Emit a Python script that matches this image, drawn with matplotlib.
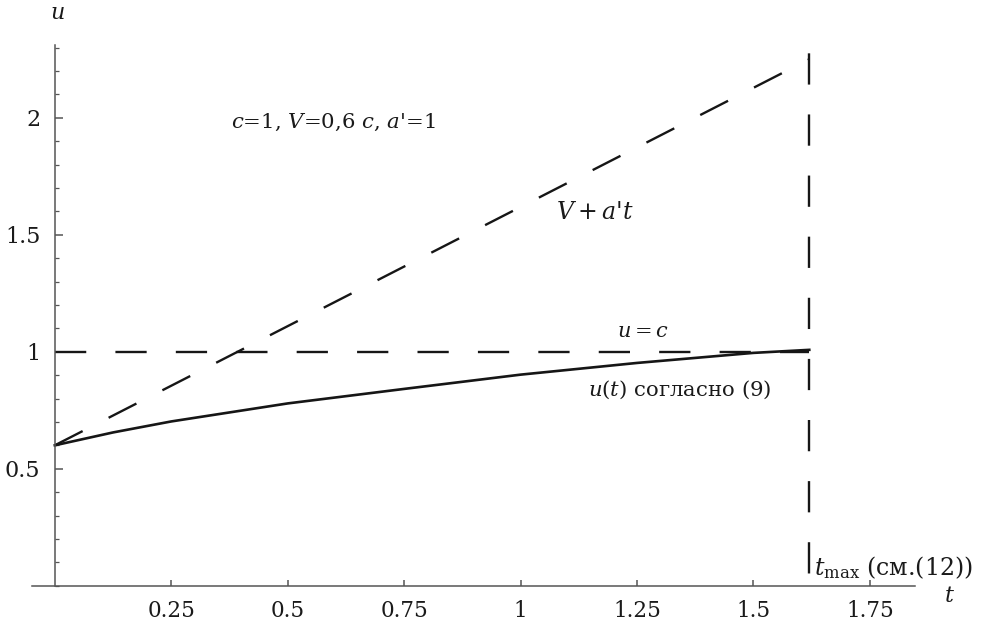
import matplotlib
matplotlib.use("Agg")
import matplotlib.pyplot as plt
from matplotlib.ticker import MultipleLocator, FixedLocator, NullFormatter

# ---- data ----
curve_t = [0.0, 0.125, 0.25, 0.5, 0.75, 1.0, 1.25, 1.5, 1.62]
curve_u = [0.6, 0.655, 0.702, 0.779, 0.841, 0.902, 0.952, 0.995, 1.008]

line_t = [0.0, 1.62]          # V + a't
line_u = [0.6, 2.25]

c_t = [0.0, 1.62]             # u = c
c_u = [1.0, 1.0]

t_max = 1.62
x_ticks = [0.25, 0.5, 0.75, 1.0, 1.25, 1.5, 1.75]
x_tick_labels = ["0.25", "0.5", "0.75", "1", "1.25", "1.5", "1.75"]
y_ticks = [0.5, 1.0, 1.5, 2.0]
y_tick_labels = ["0.5", "1", "1.5", "2"]

plt.rcParams['font.family'] = ['DejaVu Serif']
plt.rcParams['mathtext.fontset'] = 'dejavuserif'
plt.rcParams['lines.scale_dashes'] = False

W, H = 983, 627
fig = plt.figure(figsize=(W / 100, H / 100), dpi=100)
fig.patch.set_facecolor('white')

xlim = (-0.049, 1.847)
ylim = (0.0, 2.31)
left_px, right_px = 32, 915
bottom_px, top_px = 585.7, 45.2
ax = fig.add_axes([left_px / W, 1 - bottom_px / H,
                   (right_px - left_px) / W, (bottom_px - top_px) / H])
ax.set_xlim(*xlim)
ax.set_ylim(*ylim)

line_col = '#161616'
axis_col = '#555555'
txt_col = '#1a1a1a'

dash = (0, (22.5, 21))
ax.plot(c_t, c_u, color=line_col, lw=1.7, linestyle=dash)
ax.plot(line_t, line_u, color=line_col, lw=1.7, linestyle=dash)
ax.plot([t_max, t_max], [ylim[1], 0.0], color=line_col, lw=1.7,
        linestyle=(38, (22.5, 21.5)))
ax.plot(curve_t, curve_u, color=line_col, lw=1.9, solid_joinstyle='round')

for s in ['top', 'right']:
    ax.spines[s].set_visible(False)
ax.spines['left'].set_position(('data', 0))
ax.spines['bottom'].set_position(('data', 0))
for s in ['left', 'bottom']:
    ax.spines[s].set_color(axis_col)
    ax.spines[s].set_linewidth(1.1)

ax.xaxis.set_major_locator(FixedLocator(x_ticks))
ax.set_xticklabels(x_tick_labels)
ax.yaxis.set_major_locator(FixedLocator(y_ticks))
ax.set_yticklabels(y_tick_labels)
ax.yaxis.set_minor_locator(MultipleLocator(0.1))
ax.yaxis.set_minor_formatter(NullFormatter())

ax.tick_params(axis='x', direction='in', length=4, width=1.1, color=axis_col,
               labelsize=15.5, pad=10, labelcolor=txt_col)
ax.tick_params(axis='y', which='major', direction='in', length=6, width=1.1,
               color=axis_col, labelsize=16, pad=10.5, labelcolor=txt_col)
ax.tick_params(axis='y', which='minor', direction='in', length=3, width=0.9,
               color=axis_col)

ax.text(0.379, 1.98, "$c$=1, $V$=0,6 $c$, $a$'=1", fontsize=15.3, color=txt_col,
        ha='left', va='center')
ax.text(1.077, 1.593, "$V+a$'$t$", fontsize=17, color=txt_col,
        ha='left', va='center')
ax.text(1.208, 1.085, "$u=c$", fontsize=15, color=txt_col,
        ha='left', va='center')
ax.text(1.144, 0.836, "$u$($t$) согласно (9)", fontsize=15.3, color=txt_col,
        ha='left', va='center')
ax.text(1.630, 0.078, r"$t_{\mathrm{max}}$ (см.(12))", fontsize=17, color=txt_col,
        ha='left', va='center')

fig.text(949 / W, 1 - 596 / H, "$t$", fontsize=16, color=txt_col,
         ha='center', va='center')
fig.text(57 / W, 1 - 13 / H, "$u$", fontsize=16, color=txt_col,
         ha='center', va='center')

fig.savefig("out.png", dpi=100, facecolor='white')
